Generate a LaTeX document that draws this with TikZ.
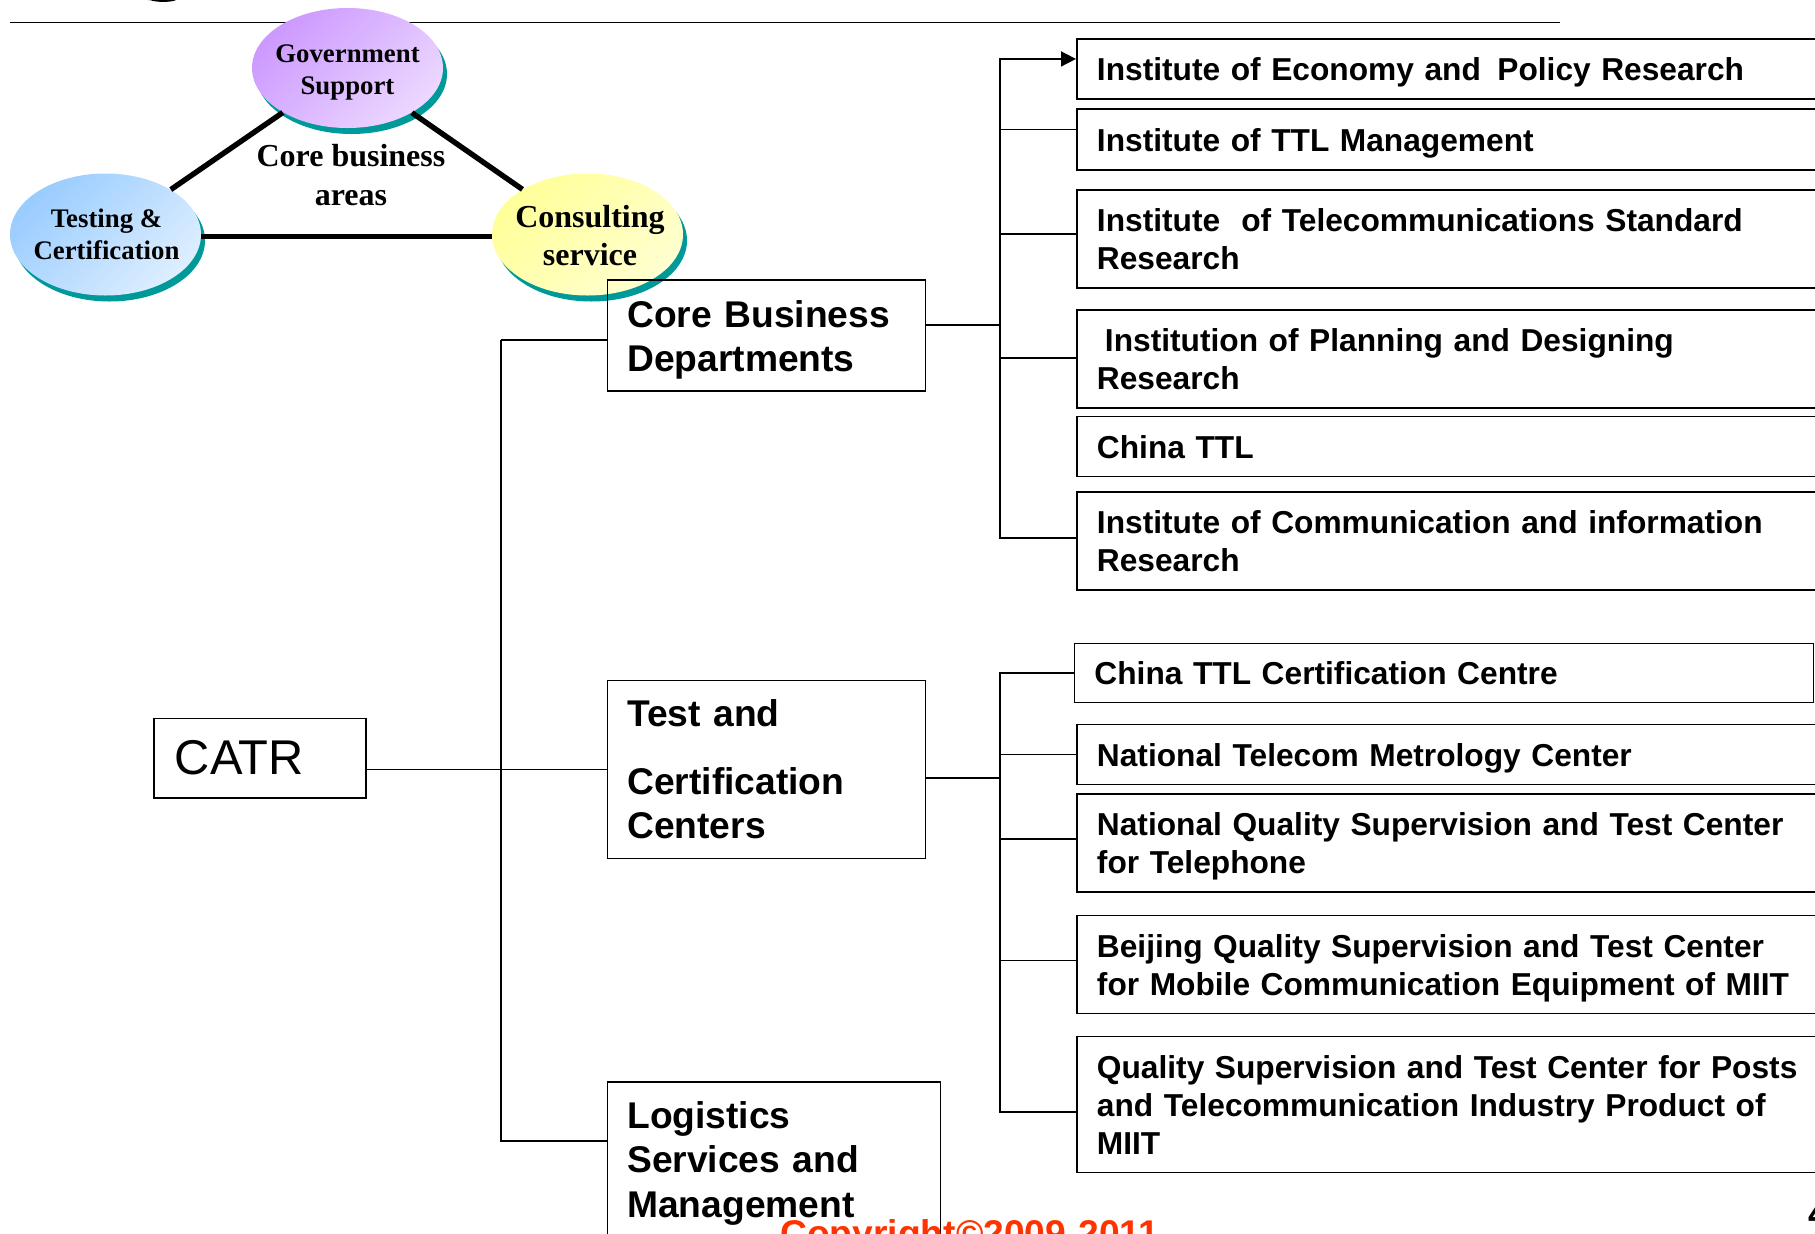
\documentclass[tikz,border=0pt]{standalone}
\usepackage{fontspec}
\setmainfont{Liberation Sans}
\newfontfamily\serifb{Liberation Serif}[BoldFont={Liberation Serif Bold}]
\usetikzlibrary{arrows.meta,shapes.geometric,shadows}
\definecolor{tealshadow}{HTML}{009999}
\definecolor{govA}{HTML}{CC99FF}
\definecolor{govB}{HTML}{ECD8FF}
\definecolor{tstA}{HTML}{99CCFF}
\definecolor{tstB}{HTML}{DEEEFF}
\definecolor{conA}{HTML}{FFFF99}
\definecolor{conB}{HTML}{FFFFD0}
\definecolor{copyred}{HTML}{FF3300}
\tikzset{
  rbox/.style={draw=black,line width=0.95pt,anchor=north west,inner xsep=10pt,inner ysep=0pt,
    text width=#1,align=left,font=\fontsize{15.85}{19}\selectfont\bfseries,
    execute at begin node={\rule{0pt}{15.5pt}},execute at end node={\rule[-3.5pt]{0pt}{0pt}}},
  rbox/.default=360pt,
  dept/.style={draw=black,line width=0.8pt,anchor=north west,inner xsep=10pt,inner ysep=0pt,
    text width=#1,align=left,font=\fontsize{18.6}{22.3}\selectfont\bfseries},
  dept/.default=139pt,
  conn/.style={draw=black,line width=0.8pt},
  tri/.style={draw=black,line width=2.7pt},
  oval/.style={ellipse,inner sep=0pt,minimum width=95.5pt,
    general shadow={fill=tealshadow,shadow xshift=2pt,shadow yshift=-3pt}},
  ovaltext/.style={inner sep=0pt,align=center,font=\serifb\fontsize{13.4}{16}\selectfont\bfseries},
  ovalbig/.style={inner sep=0pt,align=center,font=\serifb\fontsize{16}{19}\selectfont\bfseries},
}
\begin{document}
\begin{tikzpicture}[x=0.5pt,y=-0.5pt]
\useasboundingbox (0,0) rectangle (1815,1233);
\clip (0,0) rectangle (1815,1233);
\fill[black] (148,0) -- (176,0) .. controls (172,2.5) and (155,2.5) .. (150,0) -- cycle;
\coordinate (rulea) at (10,22.5);
\coordinate (ruleb) at (1560,22.5);
\draw[black,line width=0.9pt] (rulea) -- (ruleb);

% ovals
\node[oval,minimum height=60pt,top color=govA,bottom color=govB,shading angle=45] (gov) at (347.5,68) {};
\node[oval,minimum height=61pt,top color=tstA,bottom color=tstB,shading angle=45] (tst) at (105.5,234.5) {};
\node[oval,minimum height=61pt,top color=conA,bottom color=conB,shading angle=45] (con) at (587.5,234.5) {};
\node[ovaltext] (govt) at (347.5,72) {Government\\Support};
\node[ovaltext] (tstt) at (106.5,234.5) {Testing \&\\Certification};
\node[ovalbig] (cont) at (590,236) {Consulting\\service};
\node[font=\serifb\fontsize{16}{19.8}\selectfont\bfseries,align=center,inner sep=0pt] (area) at (351,175) {Core business\\areas};

% CATR and departments
\node[draw=black,line width=0.8pt,anchor=north west,minimum width=106pt,minimum height=39.7pt,inner xsep=10.5pt,inner ysep=0pt,align=left,font=\fontsize{24.4}{28}\selectfont,text width=85pt] (cat) at (153,717.5) {CATR};
\node[dept,minimum height=55.5pt] (core) at (606.5,279) {\rule{0pt}{18pt}Core Business\\Departments};
\node[dept,minimum height=89pt] (test) at (606.5,679.5) {Test and\\[11.5pt]Certification\\Centers};
\node[dept=146.5pt,inner ysep=9.7pt] (logi) at (606.5,1081) {Logistics\\Services and\\Management};

% right column, upper
\node[rbox,minimum height=30pt] (b1) at (1076,38) {Institute of Economy and\hspace{8.25pt}Policy Research};
\node[rbox,minimum height=30.5pt] (b2) at (1076,108) {Institute of TTL Management};
\node[rbox,minimum height=49pt] (b3) at (1076,189) {Institute \ of Telecommunications Standard\\Research};
\node[rbox,minimum height=49pt] (b4) at (1076,309) {\hspace*{4pt}Institution of Planning and Designing\\Research};
\node[rbox,minimum height=30pt] (b5) at (1076,415.5) {China TTL};
\node[rbox,minimum height=49pt] (b6) at (1076,491) {Institute of Communication and information\\Research};

% right column, lower
\node[rbox=349.5pt,minimum height=29.5pt] (c1) at (1073.5,642.5) {China TTL Certification Centre};
\node[rbox,minimum height=30pt] (c2) at (1076,723.5) {National Telecom Metrology Center};
\node[rbox,minimum height=49pt] (c3) at (1076,793) {National Quality Supervision and Test Center\\for Telephone};
\node[rbox,minimum height=49pt] (c4) at (1076,914.5) {Beijing Quality Supervision and Test Center\\for Mobile Communication Equipment of MIIT};
\node[rbox,minimum height=68pt] (c5) at (1076,1035.5) {Quality Supervision and Test Center for Posts\\and Telecommunication Industry Product of\\MIIT};

% connectors
\coordinate (main) at (501,340);
\draw[conn] (cat.east |- test.west) -- (test.west);
\draw[conn] (main) -- (main -| core.west);
\draw[conn] (main) |- ([yshift=-30pt]logi.north west);

\coordinate (spa) at (1000,325);
\draw[conn] (spa -| core.east) -- (spa);
\draw[conn,-{Triangle[length=7.5pt,width=7.5pt]}] (spa) |- ([yshift=5pt]b1.west);
\draw[conn] (spa) |- ([yshift=5pt]b2.west);
\draw[conn] (spa) |- ([yshift=2.4pt]b3.west);
\draw[conn] (spa) |- ([yshift=0.4pt]b4.west);
\draw[conn] (spa) |- ([yshift=1.5pt]b6.west);

\coordinate (spb) at (1000,778);
\draw[conn] (spb -| test.east) -- (spb);
\draw[conn] (spb) |- (c1.west);
\draw[conn] (spb) |- (c2.west);
\draw[conn] (spb) |- ([yshift=2pt]c3.west);
\draw[conn] (spb) |- ([yshift=2pt]c4.west);
\draw[conn] (spb) |- ([yshift=-3.75pt]c5.west);

% footer
\node[anchor=base west,inner sep=0pt,text=copyred,font=\fontsize{18.6}{22}\selectfont\bfseries] (copy) at (780,1246) {Copyright©2009-2011};
\node[anchor=base west,inner sep=0pt,font=\fontsize{18.4}{22}\selectfont\bfseries] (page) at (1808,1226) {4};

% triangle edges, ending at oval rims
\draw[tri] (gov) -- (tst);
\draw[tri] (gov) -- (con);
\draw[tri] ([yshift=-1pt]tst.east) -- ([yshift=-1pt]con.west);
\end{tikzpicture}
\end{document}
